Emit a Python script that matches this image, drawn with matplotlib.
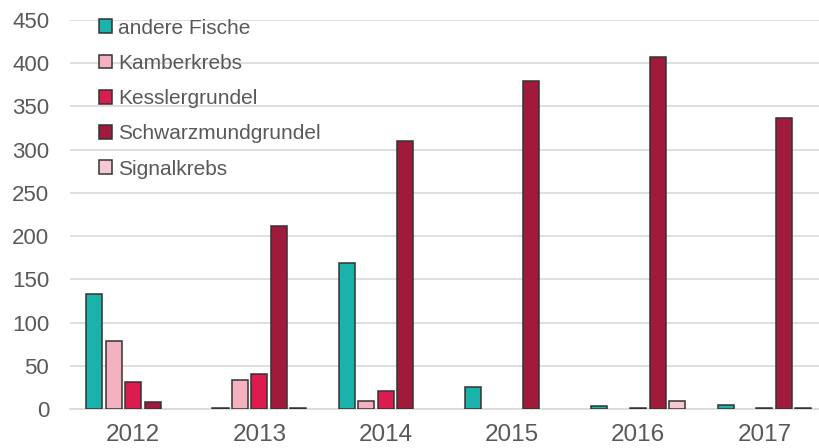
import numpy as np
import matplotlib
matplotlib.use('Agg')
import matplotlib.pyplot as plt

years = ['2012', '2013', '2014', '2015', '2016', '2017']
series = ['andere Fische', 'Kamberkrebs', 'Kesslergrundel', 'Schwarzmundgrundel', 'Signalkrebs']

andere_fische = [133, 1, 169, 26, 3, 5]
kamberkrebs = [79, 34, 9, 0, 0, 0]
kesslergrundel = [31, 41, 21, 0, 1, 1]
schwarzmundgrundel = [8, 212, 310, 380, 407, 337]
signalkrebs = [0, 1, 0, 0, 9, 1]

values = [andere_fische, kamberkrebs, kesslergrundel, schwarzmundgrundel, signalkrebs]
colors = ['#1BB2AC', '#F4B1C0', '#DC1C4E', '#A01A3C', '#F7C8D2']

plt.rcParams['font.family'] = ['Liberation Sans', 'DejaVu Sans']

fig = plt.figure(figsize=(8.2, 4.48), dpi=100)
ax = fig.add_axes([70 / 820, 39 / 448, 750 / 820, 389 / 448])

x = np.arange(len(years))
step = 0.154
width = 0.127
for i, (name, vals, col) in enumerate(zip(series, values, colors)):
    vals = np.array(vals, dtype=float)
    vals[vals == 0] = np.nan  # empty cells: no bar drawn
    ax.bar(x + (i - 2) * step, vals, width, color=col, edgecolor='#333333',
           linewidth=1.1, label=name, zorder=3)

ax.set_xlim(-0.5, 5.44)
ax.set_ylim(0, 450)
ax.set_yticks(range(0, 451, 50))
ax.set_xticks(x)
ax.set_xticklabels(years)
ax.yaxis.grid(True, color='#D9D9D9', linewidth=1.2, zorder=0)
for s in ['top', 'right', 'left']:
    ax.spines[s].set_visible(False)
ax.spines['bottom'].set_color('#D9D9D9')
ax.spines['bottom'].set_linewidth(1.2)
ax.tick_params(axis='both', length=0, colors='#595959')
ax.tick_params(axis='y', labelsize=16, pad=15)
ax.tick_params(axis='x', labelsize=17.5, pad=11)

leg = ax.legend(loc='upper left', bbox_to_anchor=(0.027, 1.025), frameon=False,
                fontsize=15, handlelength=0.65, handleheight=0.65,
                handletextpad=0.3, labelspacing=0.78, borderaxespad=0)
for t in leg.get_texts():
    t.set_color('#595959')

fig.savefig('out.png', dpi=100)
